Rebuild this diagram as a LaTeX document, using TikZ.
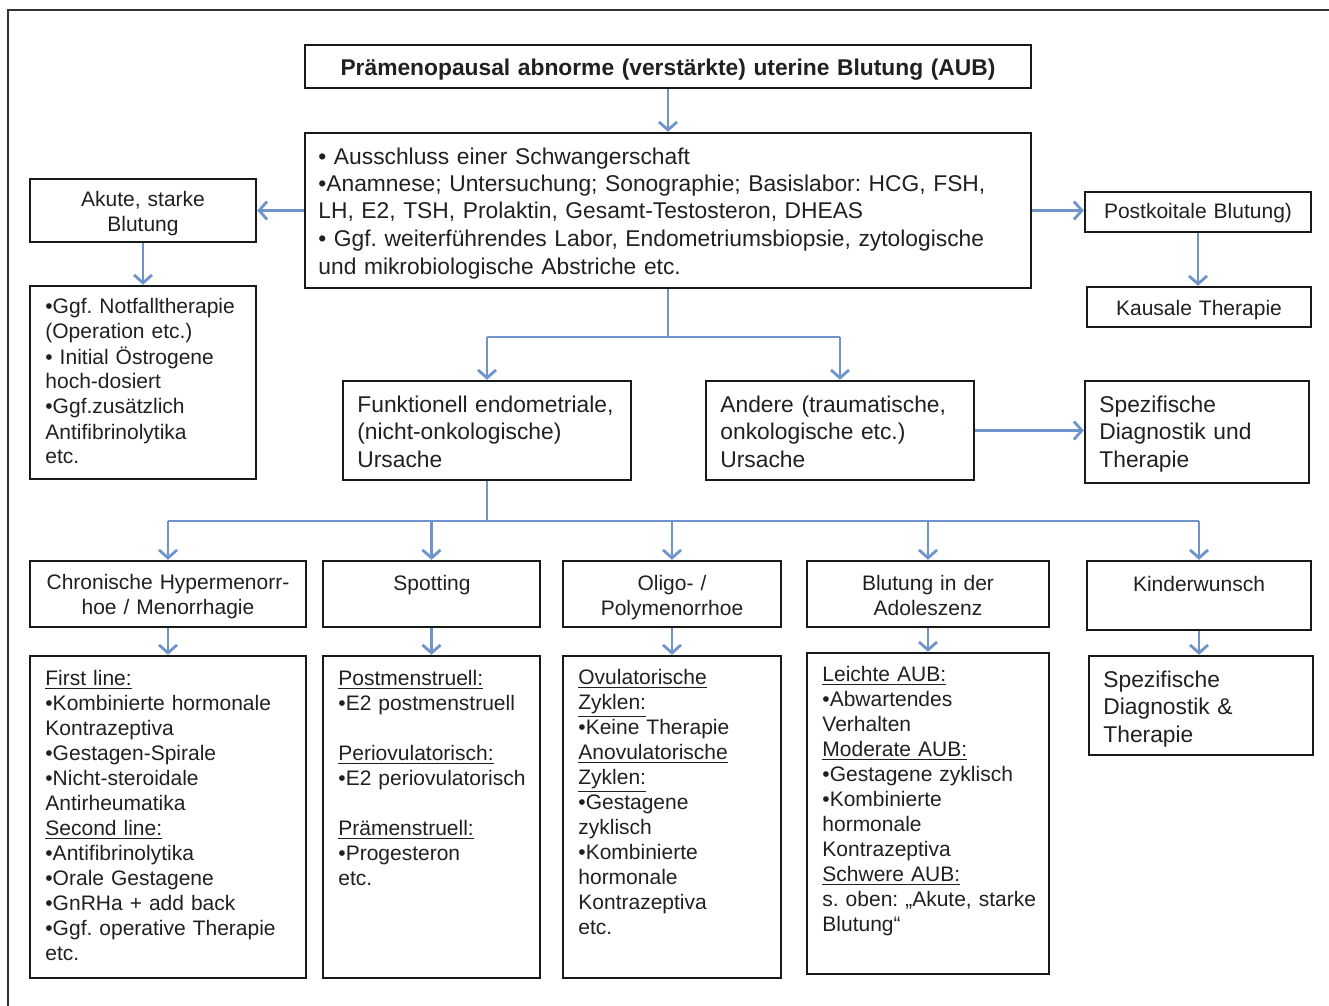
\documentclass[tikz,border=0pt]{standalone}
\usepackage{fontspec}
\setmainfont{Liberation Sans}
\usetikzlibrary{arrows.meta,fit,calc}
\definecolor{arrowc}{HTML}{6F94CC}
\definecolor{textc}{HTML}{202020}
\frenchspacing
\begin{document}
\begin{tikzpicture}[x=0.5pt,y=-0.5pt,
  box/.style={draw=black!90, line width=1.2pt, inner sep=0pt},
  txt/.style={inner sep=0pt, anchor=base west, align=left, text width=300pt, text=textc, font=\fontsize{10.5}{12.5}\selectfont},
  txtL/.style={txt, font=\fontsize{11.4}{13.75}\selectfont},
  ctxt/.style={inner sep=0pt, anchor=base, align=center, text width=300pt, text=textc, font=\fontsize{10.5}{12.5}\selectfont},
  ctxtB/.style={ctxt, font=\bfseries\fontsize{11.4}{13.5}\selectfont},
  ln/.style={draw=arrowc, line width=1.4pt},
  arr/.style={ln, -{Straight Barb[length=4pt,width=9pt]}}
]
\useasboundingbox (0,0) rectangle (1329,1006);
\draw[line width=0.8pt, draw=black!80] (8,1006) -- (8,10) -- (1329,10);

% top
\node[box, fit={(305,45)(1031,88)}] (title) {};
\node[ctxtB, text width=400pt] (titleT) at (668,76) {Prämenopausal abnorme (verstärkte) uterine Blutung (AUB)};

\node[box, fit={(305,133)(1031,288)}] (main) {};
\node[txtL, text width=400pt] (mainT) at (318,164) {• Ausschluss einer Schwangerschaft\\•Anamnese; Untersuchung; Sonographie; Basislabor: HCG, FSH,\\LH, E2, TSH, Prolaktin, Gesamt-Testosteron, DHEAS\\• Ggf. weiterführendes Labor, Endometriumsbiopsie, zytologische\\und mikrobiologische Abstriche etc.};

% left branch
\node[box, fit={(30,179)(256,242)}] (akute) {};
\node[ctxt] (akuteT) at (143,206) {Akute, starke\\Blutung};
\node[box, fit={(30,286)(256,479)}] (notfall) {};
\node[txt] (notfallT) at (45,314) {•Ggf. Notfalltherapie\\(Operation etc.)\\• Initial Östrogene\\hoch-dosiert\\•Ggf.zusätzlich\\Antifibrinolytika\\etc.};

% right branch
\node[box, fit={(1085,192)(1311,232)}] (post) {};
\node[ctxt] (postT) at (1198,219) {Postkoitale Blutung)};
\node[box, fit={(1087,287)(1311,327)}] (kausale) {};
\node[ctxt] (kausaleT) at (1199,315) {Kausale Therapie};

% middle row
\node[box, fit={(343,381)(631,480)}] (funk) {};
\node[txtL] (funkT) at (357,412) {Funktionell endometriale,\\(nicht-onkologische)\\Ursache};
\node[box, fit={(706,381)(974,480)}] (andere) {};
\node[txtL] (andereT) at (720,412) {Andere (traumatische,\\onkologische etc.)\\Ursache};
\node[box, fit={(1085,381)(1309,483)}] (spez) {};
\node[txtL] (spezT) at (1099,412) {Spezifische\\Diagnostik und\\Therapie};

% header row
\node[box, fit={(30,561)(306,627)}] (h1) {};
\node[ctxt] (h1T) at (168,589) {Chronische Hypermenorr-\\hoe / Menorrhagie};
\node[box, fit={(323,561)(540,627)}] (h2) {};
\node[ctxt] (h2T) at (432,590) {Spotting};
\node[box, fit={(563,561)(781,627)}] (h3) {};
\node[ctxt] (h3T) at (672,590) {Oligo- /\\Polymenorrhoe};
\node[box, fit={(807,561)(1049,627)}] (h4) {};
\node[ctxt] (h4T) at (928,590) {Blutung in der\\Adoleszenz};
\node[box, fit={(1087,561)(1311,630)}] (h5) {};
\node[ctxt] (h5T) at (1199,591) {Kinderwunsch};

% detail row
\node[box, fit={(30,656)(306,978)}] (d1) {};
\node[txt] (d1T) at (45,685) {\underline{First line:}\\•Kombinierte hormonale\\Kontrazeptiva\\•Gestagen-Spirale\\•Nicht-steroidale\\Antirheumatika\\\underline{Second line:}\\•Antifibrinolytika\\•Orale Gestagene\\•GnRHa + add back\\•Ggf. operative Therapie\\etc.};
\node[box, fit={(323,656)(540,978)}] (d2) {};
\node[txt] (d2T) at (338,685) {\underline{Postmenstruell:}\\•E2 postmenstruell\\[12.5pt]\underline{Periovulatorisch:}\\•E2 periovulatorisch\\[12.5pt]\underline{Prämenstruell:}\\•Progesteron\\etc.};
\node[box, fit={(563,656)(781,978)}] (d3) {};
\node[txt] (d3T) at (578,684) {\underline{Ovulatorische}\\\underline{Zyklen:}\\•Keine Therapie\\\underline{Anovulatorische}\\\underline{Zyklen:}\\•Gestagene\\zyklisch\\•Kombinierte\\hormonale\\Kontrazeptiva\\etc.};
\node[box, fit={(807,653)(1049,974)}] (d4) {};
\node[txt] (d4T) at (822,681) {\underline{Leichte AUB:}\\•Abwartendes\\Verhalten\\\underline{Moderate AUB:}\\•Gestagene zyklisch\\•Kombinierte\\hormonale\\Kontrazeptiva\\\underline{Schwere AUB:}\\s. oben: „Akute, starke\\Blutung“};
\node[box, fit={(1089,656)(1313,755)}] (d5) {};
\node[txtL] (d5T) at (1103,687) {Spezifische\\Diagnostik \&\\Therapie};

% connectors
\draw[arr] (title) -- (main);
\draw[arr] (main) -- (akute);
\draw[arr] (main) -- (main -| post.west);
\draw[arr] (akute) -- (notfall);
\draw[arr] (post) -- (post |- kausale.north);

\coordinate (split) at (668,337);
\draw[ln] (main.south) -- (main.south |- split);
\draw[ln] (funk.north |- split) -- (andere.north |- split);
\draw[arr] (funk.north |- split) -- (funk.north);
\draw[arr] (andere.north |- split) -- (andere.north);
\draw[arr] (andere) -- (andere -| spez.west);

\coordinate (bar) at (487,521);
\draw[ln] (funk.south) -- (funk.south |- bar);
\draw[ln] (h1.north |- bar) -- (h5.north |- bar);
\foreach \h in {h1,h2,h3,h4,h5} \draw[arr] (\h.north |- bar) -- (\h.north);
\draw[arr] (h1) -- (d1);
\draw[arr] (h2) -- (d2);
\draw[arr] (h3) -- (d3);
\draw[arr] (h4) -- (d4);
\draw[arr] (h5.south) -- (h5.south |- d5.north);
\end{tikzpicture}
\end{document}
